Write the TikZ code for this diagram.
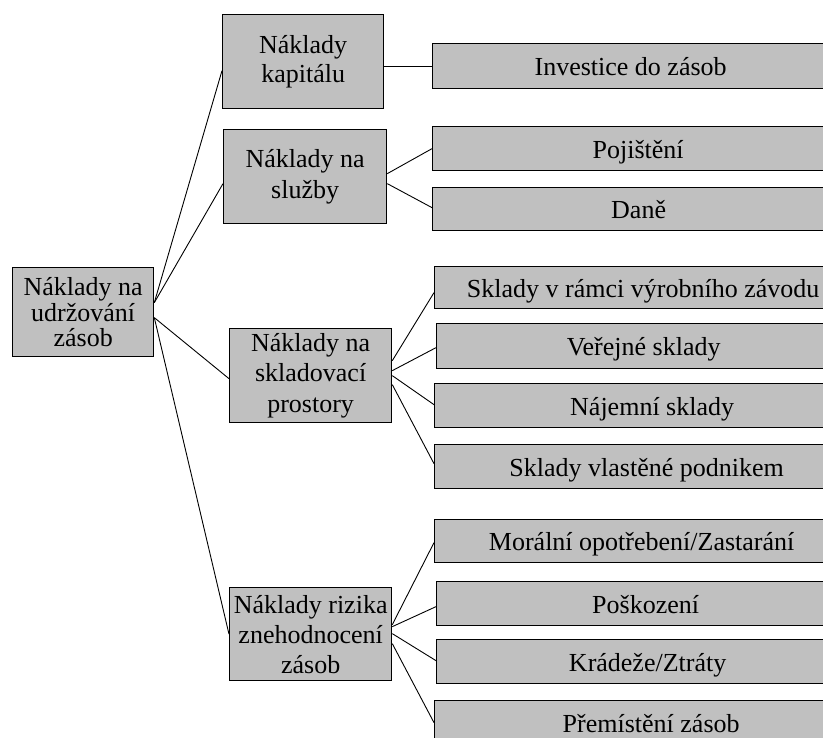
\documentclass[tikz,border=0pt]{standalone}
\usepackage{fontspec}
\setmainfont{Liberation Serif}
\begin{document}
\begin{tikzpicture}[x=1pt,y=-1pt,
  box/.style={draw=black,line width=1.3pt,fill=boxgray,inner sep=0pt,anchor=north west,align=center,
    font=\fontsize{26}{30}\selectfont},
  leaf/.style={box,text height=24pt,text depth=5pt},
  conn/.style={draw=black,line width=0.9pt}]
\definecolor{boxgray}{HTML}{C0C0C0}
\useasboundingbox (0,0) rectangle (823,738);
\clip (0,0) rectangle (823,738);
% root
\node[box,minimum width=141pt,minimum height=89pt,font=\fontsize{26}{25.5}\selectfont] (root) at (12,267) {Náklady na\\udržování\\zásob};
% level 1
\node[box,minimum width=161pt,minimum height=94pt,font=\fontsize{26}{29}\selectfont] (kap) at (222,14) {Náklady\\kapitálu};
\node[box,minimum width=163pt,minimum height=94pt,font=\fontsize{26}{31}\selectfont] (sluz) at (223,129) {Náklady na\\služby};
\node[box,minimum width=162pt,minimum height=94pt,font=\fontsize{26}{30.5}\selectfont] (skl) at (229,328) {Náklady na\\skladovací\\prostory};
\node[box,minimum width=162pt,minimum height=93pt,font=\fontsize{26}{30}\selectfont] (riz) at (229,587) {Náklady rizika\\znehodnocení\\zásob};
% level 2
\node[leaf,minimum width=396pt,minimum height=45pt] (inv) at (432,43) {Investice do zásob};
\node[leaf,minimum width=411pt,minimum height=44pt] (poj) at (432,126) {Pojištění};
\node[leaf,minimum width=412pt,minimum height=43pt] (dane) at (432,187) {Daně};
\node[leaf,minimum width=417pt,minimum height=42pt] (skr) at (434,266) {Sklady v rámci výrobního závodu};
\node[leaf,minimum width=414pt,minimum height=45pt] (ver) at (436,323) {Veřejné sklady};
\node[leaf,minimum width=435pt,minimum height=44pt] (naj) at (434,383) {Nájemní sklady};
\node[leaf,minimum width=424pt,minimum height=44pt] (vla) at (434,444) {Sklady vlastěné podnikem};
\node[leaf,minimum width=414pt,minimum height=43pt] (mor) at (434,519) {Morální opotřebení/Zastarání};
\node[leaf,minimum width=418pt,minimum height=44pt] (pos) at (436,581) {Poškození};
\node[leaf,minimum width=422pt,minimum height=44pt] (kra) at (436,639) {Krádeže/Ztráty};
\node[leaf,minimum width=433pt,minimum height=44pt] (pre) at (434,700) {Přemístění zásob};
% connectors root -> level 1
\draw[conn] ([yshift=9.5pt]root.east) -- ([yshift=-9pt]kap.west);
\draw[conn] ([yshift=9.5pt]root.east) -- ([yshift=-7pt]sluz.west);
\draw[conn] ([yshift=-5.5pt]root.east) -- ([yshift=-3pt]skl.west);
\draw[conn] ([yshift=-5.5pt]root.east) -- (riz.west);
% kapital
\draw[conn] (inv.west -| kap.east) -- (inv.west);
% sluzby
\draw[conn] ([yshift=3pt]sluz.east) -- (poj.west);
\draw[conn] ([yshift=-7pt]sluz.east) -- ([yshift=1.5pt]dane.west);
% sklad
\draw[conn] ([yshift=15pt]skl.east) -- ([yshift=-5pt]skr.west);
\draw[conn] ([yshift=5pt]skl.east) -- ([yshift=-1.5pt]ver.west);
\draw[conn] (skl.east) -- ([yshift=1pt]naj.west);
\draw[conn] ([yshift=-9pt]skl.east) -- ([yshift=3pt]vla.west);
% riziko
\draw[conn] ([yshift=9.5pt]riz.east) -- ([yshift=-1.5pt]mor.west);
\draw[conn] ([yshift=7.5pt]riz.east) -- ([yshift=-3pt]pos.west);
\draw[conn] ([yshift=0.5pt]riz.east) -- ([yshift=1pt]kra.west);
\draw[conn] ([yshift=-9.5pt]riz.east) -- (pre.west);
\end{tikzpicture}
\end{document}
